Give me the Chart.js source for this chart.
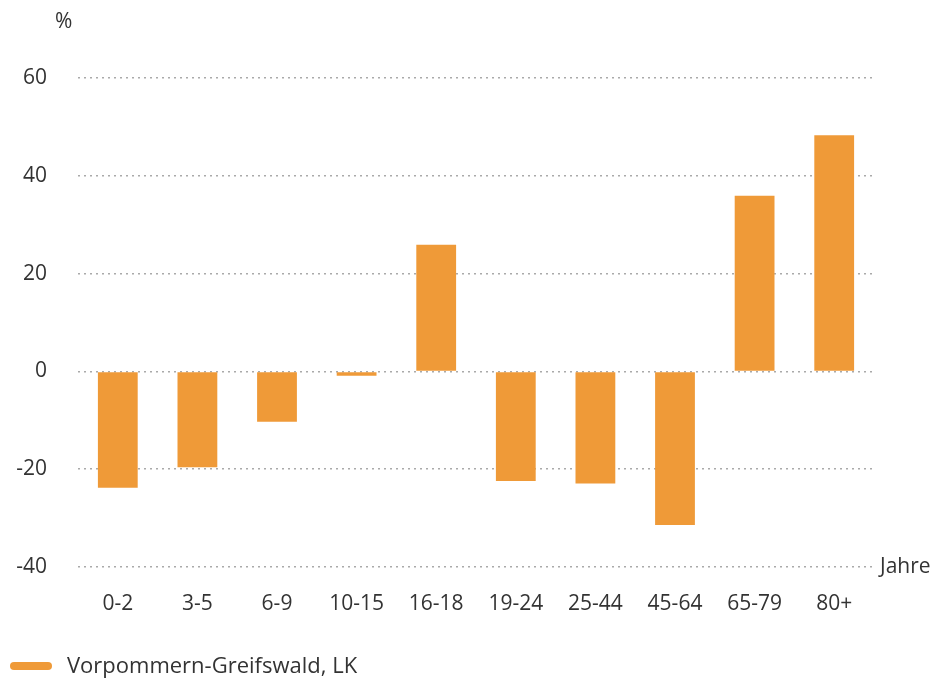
<!DOCTYPE html>
<html>
<head>
<meta charset="utf-8">
<script src="https://cdn.jsdelivr.net/npm/chart.js@4"></script>
<style>
  html, body { margin: 0; padding: 0; background: #fff; }
  canvas { display: block; }
</style>
</head>
<body>
<canvas id="grafica" width="941" height="681"></canvas>
<script>
// Altersgruppen und Veränderung in %
const altersgruppen = ['0-2', '3-5', '6-9', '10-15', '16-18', '19-24', '25-44', '45-64', '65-79', '80+'];
const veraenderung = [-23.8, -19.6, -10.3, -0.9, 25.9, -22.4, -22.9, -31.4, 35.9, 48.3];
const yTicks = [-40, -20, 0, 20, 40, 60];
const serienName = 'Vorpommern-Greifswald, LK';

const orange = '#ef9a38';
const textFarbe = '#333333';
const schrift = '"Open Sans", "Noto Sans", sans-serif';

// Beschriftungen "%", "Jahre" und Legende
const extras = {
    id: 'extras',
    afterDraw(chart) {
        const ctx = chart.ctx;
        const y = chart.scales.y;
        ctx.save();
        ctx.fillStyle = textFarbe;
        ctx.font = '21px ' + schrift;
        ctx.textBaseline = 'middle';
        ctx.textAlign = 'left';
        ctx.fillText('%', 55, 22);
        ctx.fillText('Jahre', 880, y.getPixelForValue(-40));
        // Legende
        ctx.strokeStyle = orange;
        ctx.lineWidth = 8;
        ctx.lineCap = 'round';
        ctx.beginPath();
        ctx.moveTo(14, 666);
        ctx.lineTo(48, 666);
        ctx.stroke();
        ctx.font = '22px ' + schrift;
        ctx.fillText(serienName, 67, 667);
        ctx.restore();
    }
};

new Chart(document.getElementById('grafica').getContext('2d'), {
    type: 'bar',
    data: {
        labels: altersgruppen,
        datasets: [{
            label: serienName,
            data: veraenderung,
            backgroundColor: orange,
            categoryPercentage: 1,
            barPercentage: 0.5
        }]
    },
    options: {
        responsive: false,
        animation: false,
        devicePixelRatio: 1,
        layout: { padding: { top: 78, right: 67, bottom: 60, left: 0 } },
        plugins: {
            legend: { display: false },
            tooltip: { enabled: false }
        },
        scales: {
            x: {
                grid: { display: false, drawTicks: false },
                border: { display: false },
                ticks: {
                    color: textFarbe,
                    font: { family: schrift, size: 21 },
                    padding: 24,
                    maxRotation: 0,
                    autoSkip: false
                },
                afterFit(scale) { scale.height = 54; }
            },
            y: {
                min: -40,
                max: 60,
                afterBuildTicks(scale) { scale.ticks = yTicks.map(v => ({ value: v })); },
                grid: {
                    drawTicks: false,
                    color: '#aaaaaa',
                    lineWidth: 1.5
                },
                border: { display: false, dash: [2, 4] },
                ticks: {
                    color: textFarbe,
                    font: { family: schrift, size: 21 },
                    padding: 31
                },
                afterFit(scale) { scale.width = 78; }
            }
        }
    },
    plugins: [extras]
});
</script>
</body>
</html>
